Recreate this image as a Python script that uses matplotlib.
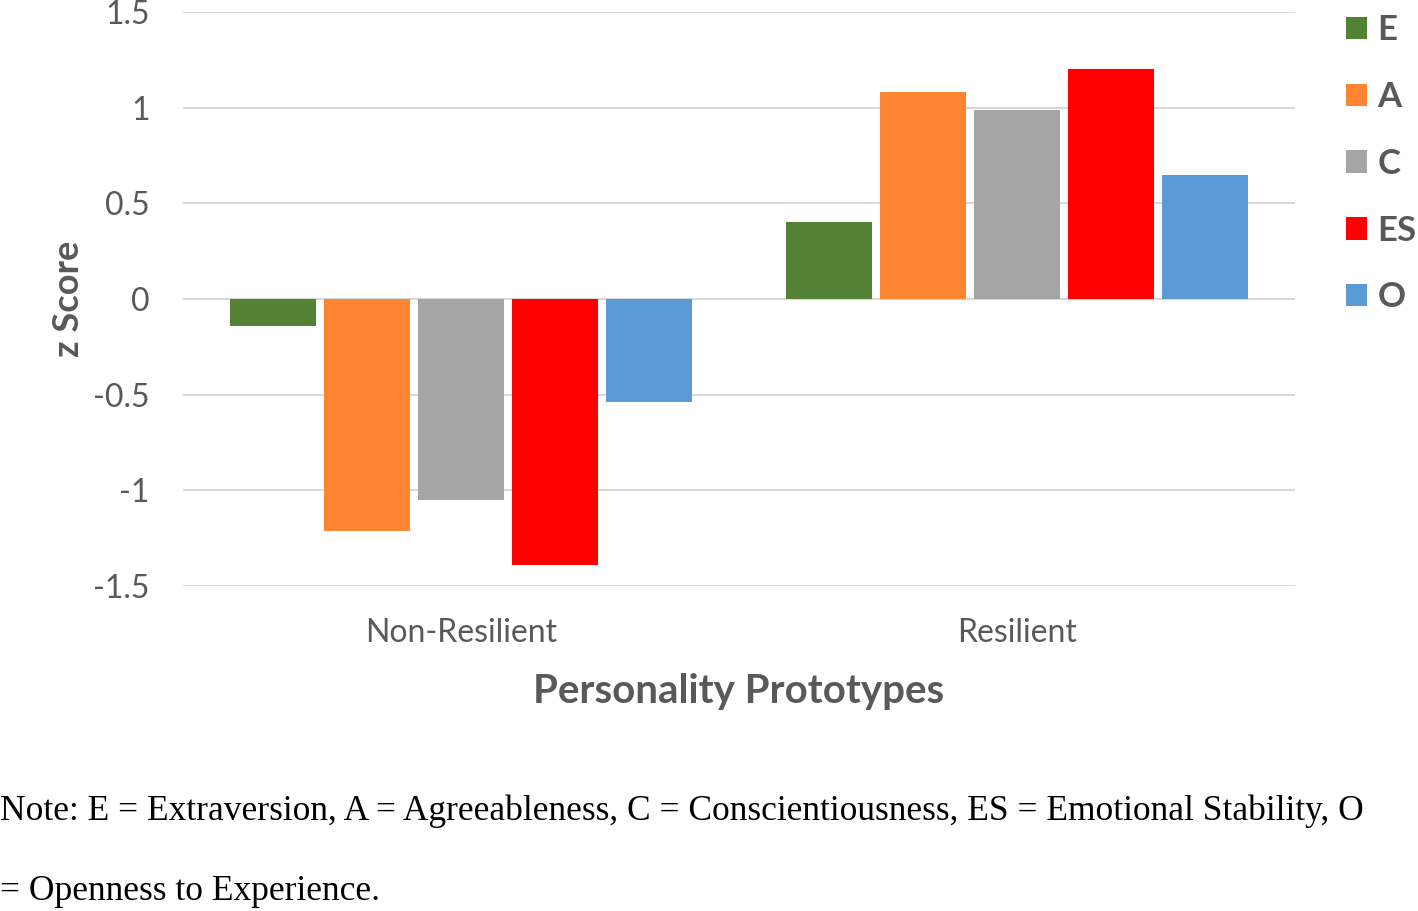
import numpy as np
import matplotlib
matplotlib.use("Agg")
import matplotlib.pyplot as plt

# data
groups = ["Non-Resilient", "Resilient"]
traits = ["E", "A", "C", "ES", "O"]
E = [-0.14, 0.40]
A = [-1.21, 1.08]
C = [-1.05, 0.99]
ES = [-1.39, 1.20]
O = [-0.54, 0.65]
yticks = [-1.5, -1, -0.5, 0, 0.5, 1, 1.5]
ytick_labels = ["-1.5", "-1", "-0.5", "0", "0.5", "1", "1.5"]

colors = ["#548235", "#FF8533", "#A5A5A5", "#FF0000", "#5B9BD5"]
GRAY = "#595959"

plt.rcParams["font.family"] = ["Lato", "DejaVu Sans"]

fig = plt.figure(figsize=(14.18, 9.11), dpi=100)
ax = fig.add_axes([183 / 1418, 1 - 586 / 911, 1112 / 1418, 574 / 911])

x = np.arange(len(groups))
step, width = 0.169, 0.156
for i, (name, vals) in enumerate(zip(traits, [E, A, C, ES, O])):
    ax.bar(x + (i - 2) * step, vals, width, color=colors[i], label=name, zorder=3)

ax.set_xlim(-0.5, 1.5)
ax.set_ylim(-1.5, 1.5)
ax.set_yticks(yticks)
ax.set_yticklabels(ytick_labels)
ax.set_xticks(x)
ax.set_xticklabels(groups)
ax.tick_params(axis="both", length=0, labelsize=23, colors=GRAY)
ax.tick_params(axis="y", pad=24)
ax.tick_params(axis="x", pad=23)
ax.yaxis.grid(True, color="#D9D9D9", lw=1.5, zorder=0)
for s in ax.spines.values():
    s.set_visible(False)

ax.set_ylabel("z Score", fontsize=26, fontweight="bold", color=GRAY, labelpad=6)
ax.set_xlabel("Personality Prototypes", fontsize=29, fontweight="bold", color=GRAY, labelpad=18)

leg = ax.legend(loc="upper left", bbox_to_anchor=(1.033, 1.02), frameon=False,
                prop={"size": 25, "weight": "bold"}, handlelength=0.62, handleheight=0.62,
                handletextpad=0.3, labelspacing=1.0, borderaxespad=0)
for t in leg.get_texts():
    t.set_color(GRAY)

note_font = dict(family=["Liberation Serif", "DejaVu Serif"], fontsize=25.5, color="black")
fig.text(0.0, 1 - 811 / 911,
         "Note: E = Extraversion, A = Agreeableness, C = Conscientiousness, ES = Emotional Stability, O",
         va="center", ha="left", **note_font)
fig.text(0.0, 1 - 892 / 911, "= Openness to Experience.", va="center", ha="left", **note_font)

fig.savefig("out.png", dpi=100)
